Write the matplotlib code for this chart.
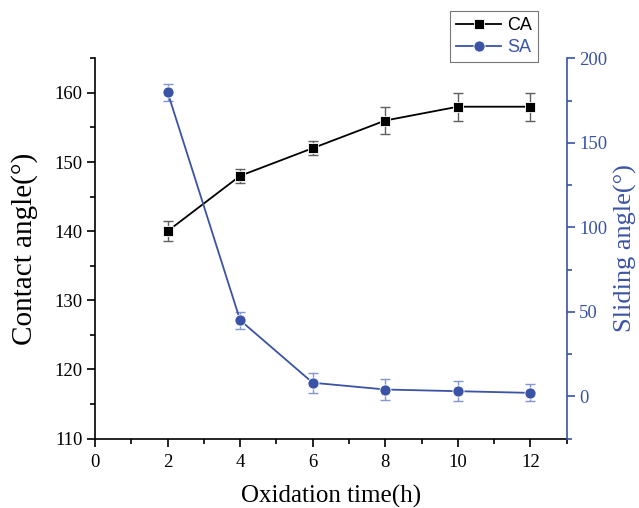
import matplotlib.pyplot as plt
import matplotlib.ticker as mticker
import numpy as np

# data
time_h = [2, 4, 6, 8, 10, 12]
ca = [140, 148, 152, 156, 158, 158]
ca_err = [1.5, 1, 1, 2, 2, 2]
sa = [180, 45, 8, 4, 3, 2]
sa_err = [5, 5, 6, 6.5, 6, 5]

blue = '#3a53a6'
serif = 'Liberation Serif'

fig = plt.figure(figsize=(6.39, 5.08), dpi=100)
ax = fig.add_axes([0.1487, 0.1368, 0.8868 - 0.1487, 0.8852 - 0.1368])
ax2 = ax.twinx()

# contact angle (left axis)
ax.errorbar(time_h, ca, yerr=ca_err, fmt='none', ecolor='#606060',
            elinewidth=1, capsize=3.5, capthick=1, zorder=2)
l1, = ax.plot(time_h, ca, color='black', lw=1.3, marker='s', ms=7.5,
              mec='white', mew=0.6, label='CA', zorder=3)

# sliding angle (right axis)
ax2.errorbar(time_h, sa, yerr=sa_err, fmt='none', ecolor='#8496d0',
             elinewidth=1, capsize=3.5, capthick=1, zorder=2)
l2, = ax2.plot(time_h, sa, color=blue, lw=1.3, marker='o', ms=8,
               mec='white', mew=0.6, label='SA', zorder=3)

ax.set_xlim(0, 13)
ax.set_ylim(110, 165)
ax2.set_ylim(-25, 200)

ax.xaxis.set_major_locator(mticker.MultipleLocator(2))
ax.xaxis.set_minor_locator(mticker.MultipleLocator(1))
ax.yaxis.set_major_locator(mticker.MultipleLocator(10))
ax.yaxis.set_minor_locator(mticker.MultipleLocator(5))
ax2.yaxis.set_major_locator(mticker.MultipleLocator(50))
ax2.yaxis.set_minor_locator(mticker.MultipleLocator(25))

for a in (ax, ax2):
    a.spines['top'].set_visible(False)
ax.spines['right'].set_visible(False)
ax2.spines['left'].set_visible(False)
ax2.spines['bottom'].set_visible(False)
ax2.spines['right'].set_color(blue)
ax2.spines['right'].set_linewidth(1.2)
ax.spines['left'].set_linewidth(1.2)
ax.spines['bottom'].set_linewidth(1.2)

ax.tick_params(which='major', direction='out', length=6, width=1.2,
               labelsize=13.5, pad=3)
ax.tick_params(axis='x', which='major', pad=5)
ax.tick_params(which='minor', direction='out', length=3.5, width=1.2)
ax2.tick_params(which='major', direction='out', length=6, width=1.2,
                labelsize=13.5, colors=blue, pad=3)
ax2.tick_params(which='minor', direction='out', length=3.5, width=1.2,
                colors=blue)
for lab in ax.get_xticklabels() + ax.get_yticklabels() + ax2.get_yticklabels():
    lab.set_fontfamily(serif)

ax.set_xlabel('Oxidation time(h)', fontsize=18, family=serif, labelpad=10)
ax.set_ylabel('Contact angle(°)', fontsize=21, family=serif, labelpad=12)
ax2.set_ylabel('Sliding angle(°)', fontsize=19, family=serif, color=blue,
               labelpad=5)

leg = ax2.legend(handles=[l1, l2], loc='upper right',
                 bbox_to_anchor=(0.842, 0.978), bbox_transform=fig.transFigure,
                 fancybox=False, framealpha=1, edgecolor='#777777',
                 prop={'family': 'Liberation Sans', 'size': 13},
                 handlelength=2.5, handletextpad=0.3, borderpad=0.35,
                 labelspacing=0.25, borderaxespad=0)
leg.get_frame().set_linewidth(0.8)
leg.get_texts()[1].set_color(blue)

fig.savefig('out.png', dpi=100)
